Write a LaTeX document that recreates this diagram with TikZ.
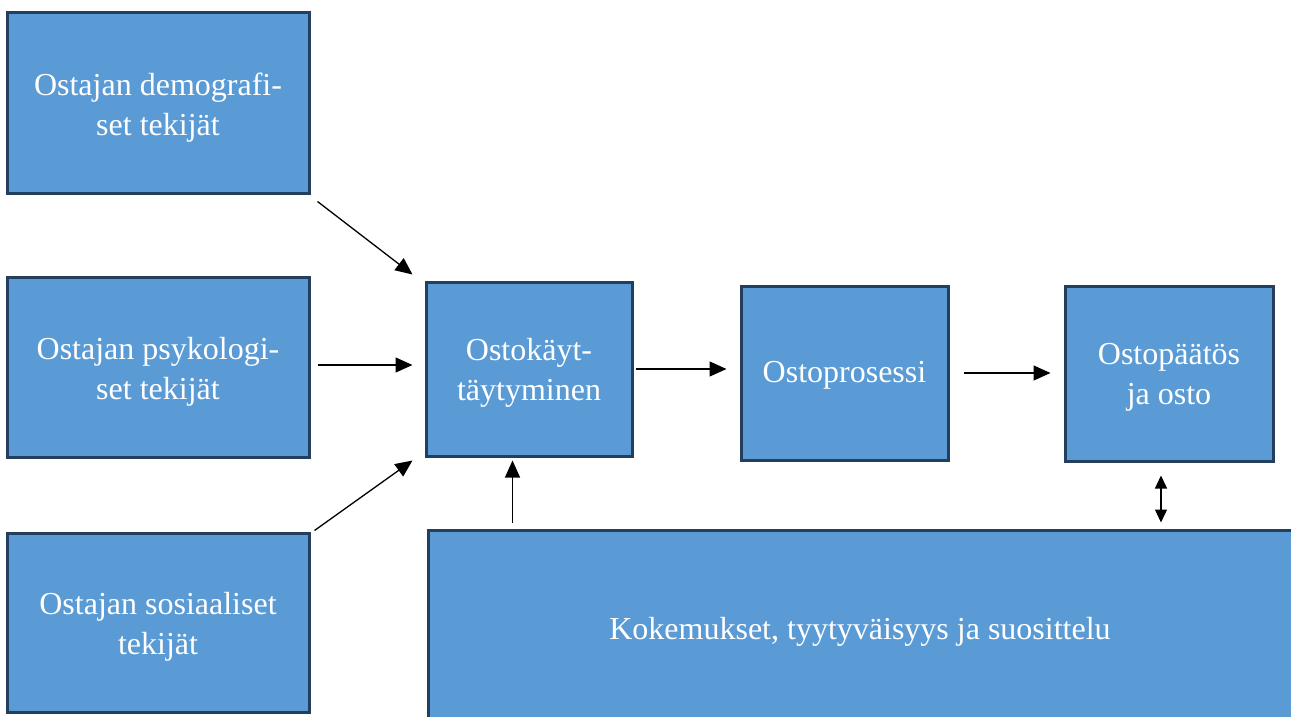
\documentclass[tikz,border=0pt]{standalone}
\usepackage{fontspec}
\setmainfont{Liberation Serif}
\usetikzlibrary{arrows.meta,calc}
\definecolor{boxfill}{HTML}{5B9BD5}
\definecolor{boxline}{HTML}{243F5E}
\tikzset{
  box/.style={rectangle,draw=boxline,line width=3pt,fill=boxfill,inner sep=0pt},
  lbl/.style={text=white,align=center,inner sep=0pt,font=\fontsize{32}{40}\selectfont},
  arr/.style={line width=1.3pt,-{Triangle[length=17pt,width=15pt]}},
  darr/.style={line width=1.3pt,{Triangle[length=13pt,width=12pt]}-{Triangle[length=13pt,width=12pt]}}
}
\begin{document}
\begin{tikzpicture}[x=1pt,y=-1pt]
\useasboundingbox (0,0) rectangle (1291,717);
\clip (0,0) rectangle (1291,717);
\node[box,minimum width=302pt,minimum height=180pt] (b1) at (158,103) {};
\node[box,minimum width=302pt,minimum height=180pt] (b2) at (158,367) {};
\node[box,minimum width=302pt,minimum height=179pt] (b3) at (158,622.5) {};
\node[box,minimum width=206pt,minimum height=174pt] (b4) at (529,369) {};
\node[box,minimum width=207pt,minimum height=174pt] (b5) at (844.5,373) {};
\node[box,minimum width=208pt,minimum height=175pt] (b6) at (1169,373.5) {};
\node[box,minimum width=900pt,minimum height=240pt] (big) at (878,650) {};
\node[lbl] (t1) at ($(b1.center)+(0,5)$) {Ostajan demografi-\\set tekijät};
\node[lbl] (t2) at ($(b2.center)+(0,5)$) {Ostajan psykologi-\\set tekijät};
\node[lbl] (t3) at ($(b3.center)+(0,4)$) {Ostajan sosiaaliset\\tekijät};
\node[lbl] (t4) at ($(b4.center)+(0,4)$) {Ostokäyt-\\täytyminen};
\node[lbl] (t5) at ($(b5.center)+(0,2)$) {Ostoprosessi};
\node[lbl] (t6) at ($(b6.center)+(0,4)$) {Ostopäätös\\ja osto};
\node[lbl] (t7) at (860,632) {Kokemukset, tyytyväisyys ja suosittelu};
\coordinate (upS) at ($(big.north west)+(86,-6)$);
\coordinate (upE) at ($(upS |- b4.south)+(0,3)$);
\draw[arr] ($(b1.south east)+(7,7)$) -- ($(b4.north west)+(-12,-6)$);
\draw[arr] ($(b2.east)+(7,-2)$) -- ($(b4.west)+(-12,-4)$);
\draw[arr] ($(b3.north east)+(4,-1)$) -- ($(b4.south west)+(-12,3)$);
\draw[arr] ($(b4.east)+(2,0)$) -- ($(b5.west|-b4.east)+(-13,0)$);
\draw[arr] ($(b5.east)+(14,0)$) -- ($(b6.west|-b5.east)+(-13,0)$);
\draw[arr] (upS) -- (upE);
\draw[darr] ($(b6.south)+(-8,13)$) -- ($(b6.south)+(-8,60)$);
\end{tikzpicture}
\end{document}
